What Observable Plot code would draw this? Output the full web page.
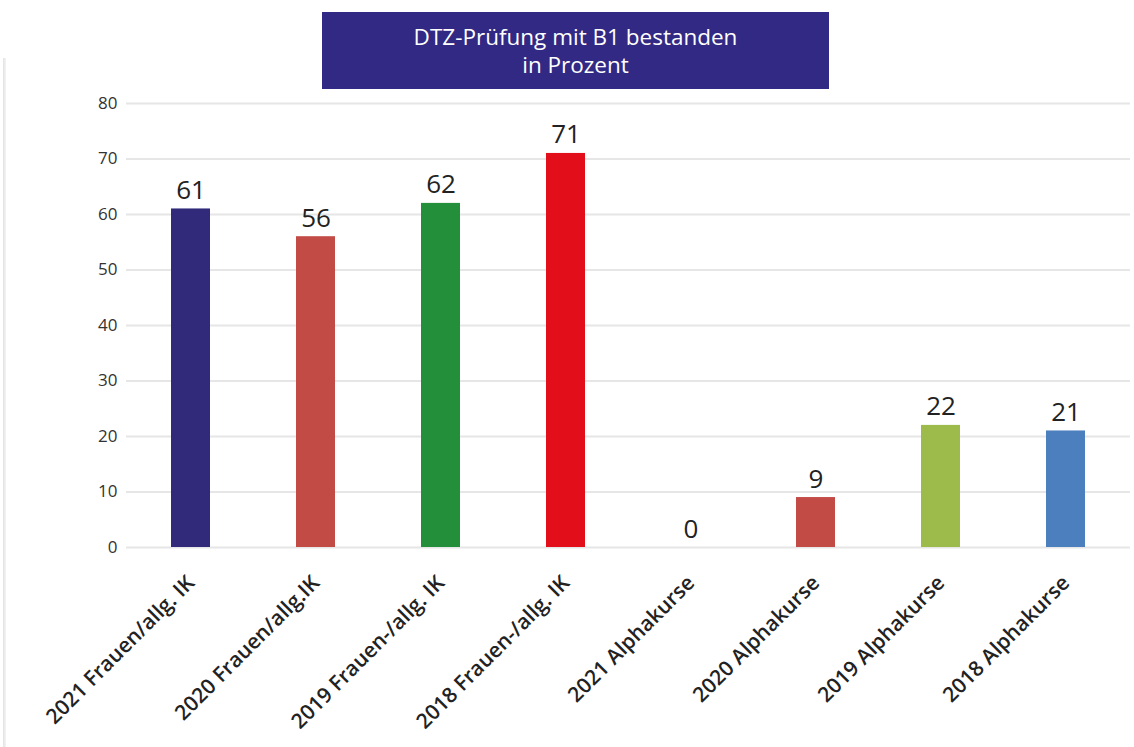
<!DOCTYPE html>
<html><head><meta charset="utf-8">
<script src="https://cdn.jsdelivr.net/npm/d3@7"></script>
<script src="https://cdn.jsdelivr.net/npm/@observablehq/plot@0.6"></script>
<style>
html,body{margin:0;background:#fff;overflow:hidden;}
body{width:1134px;height:747px;position:relative;font-family:"Open Sans",sans-serif;}
#edge{position:absolute;left:3px;top:58px;width:3px;height:700px;background:linear-gradient(to right,#e2e2e2,#f4f4f4);}
#title{margin:12px 0 0 322px;width:507px;height:77px;background:#322984;color:#fff;text-align:center;font-size:22.5px;line-height:28px;box-sizing:border-box;padding-top:11px;font-family:"Open Sans",sans-serif;}
#chart svg{display:block;}
</style></head>
<body>
<div id="edge"></div>
<div id="title">DTZ-Prüfung mit B1 bestanden<br>in Prozent</div>
<div id="chart"></div>
<script>
const categories = ["2021 Frauen/allg. IK","2020 Frauen/allg.IK","2019 Frauen-/allg. IK","2018 Frauen-/allg. IK","2021 Alphakurse","2020 Alphakurse","2019 Alphakurse","2018 Alphakurse"];
const values = [61,56,62,71,0,9,22,21];
const colors = ["#312a7b","#c24b46","#238f3b","#e20f1b","#c24b46","#c24b46","#9dbb4a","#4c7fbe"];
const yTicks = [0,10,20,30,40,50,60,70,80];

const data = categories.map((c,i)=>({cat:c, v:values[i], color:colors[i]}));

const chart = Plot.plot({
  width:1134, height:658,
  marginTop:14, marginBottom:200, marginLeft:126, marginRight:4,
  style:{fontFamily:"Open Sans, sans-serif", color:"#2a2a2a", background:"transparent"},
  x:{domain:categories, paddingInner:0.69, paddingOuter:0.345, label:null},
  y:{domain:[0,80], label:null},
  marks:[
    Plot.gridY(yTicks,{stroke:"#e6e6e6", strokeOpacity:1, strokeWidth:2}),
    Plot.axisY(yTicks,{tickSize:0, tickPadding:9, fontSize:17, fontWeight:500, fill:"#333", label:null}),
    Plot.axisX({tickSize:0, tickPadding:32, tickRotate:-45, fontSize:21, fontWeight:600, fill:"#222", label:null}),
    Plot.barY(data,{x:"cat", y:"v", fill:"color"}),
    Plot.text(data,{x:"cat", y:"v", text:d=>String(d.v), lineAnchor:"bottom", dy:-10, fontSize:26, fontWeight:500, fill:"#222"})
  ]
});
document.getElementById("chart").appendChild(chart);
</script>
</body></html>
